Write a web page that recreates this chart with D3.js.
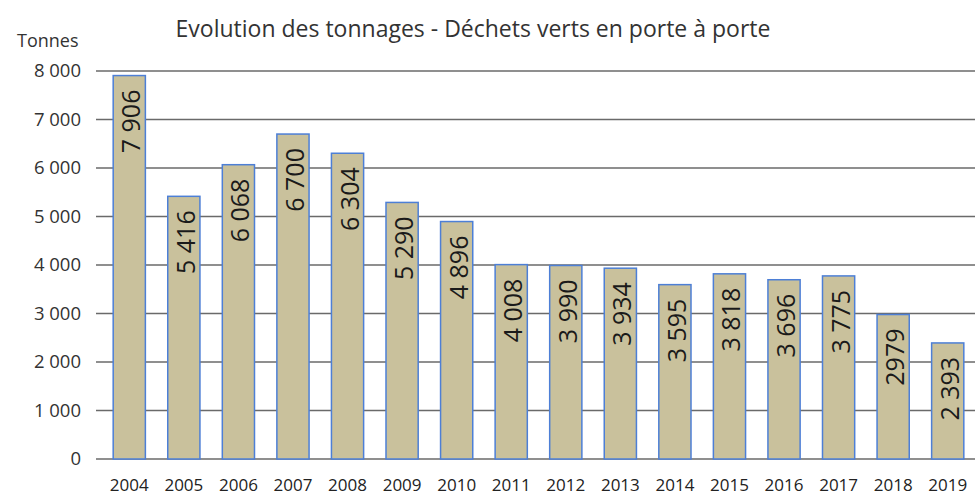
<!DOCTYPE html>
<html>
<head>
<meta charset="utf-8">
<script src="https://cdn.jsdelivr.net/npm/d3@7"></script>
<style>
  body { margin: 0; background: #fff; }
  svg { display: block; }
  text { font-family: "Open Sans", "Noto Sans", sans-serif; }
</style>
</head>
<body>
<svg id="chart" width="977" height="497"></svg>
<script>
// Annual green-waste tonnage collected door to door
const years = ["2004","2005","2006","2007","2008","2009","2010","2011","2012","2013","2014","2015","2016","2017","2018","2019"];
const tonnes = [7906, 5416, 6068, 6700, 6304, 5290, 4896, 4008, 3990, 3934, 3595, 3818, 3696, 3775, 2979, 2393];
const valueLabels = ["7 906","5 416","6 068","6 700","6 304","5 290","4 896","4 008","3 990","3 934","3 595","3 818","3 696","3 775","2979","2 393"];
const yTicks = [0, 1000, 2000, 3000, 4000, 5000, 6000, 7000, 8000];
const yTickLabels = ["0","1 000","2 000","3 000","4 000","5 000","6 000","7 000","8 000"];

const svg = d3.select("#chart");
const margin = { left: 102, right: 2, top: 71, bottom: 38 };
const W = 977, H = 497;

const x = d3.scaleBand().domain(years).range([margin.left, W - margin.right]).paddingInner(0.41).paddingOuter(0.205);
const y = d3.scaleLinear().domain([0, 8000]).range([H - margin.bottom, margin.top]);

// Title and unit
svg.append("text").attr("x", 473).attr("y", 37).attr("text-anchor", "middle")
  .attr("font-size", 23).attr("fill", "#333").text("Evolution des tonnages - Déchets verts en porte à porte");
svg.append("text").attr("x", 17).attr("y", 47)
  .attr("font-size", 18).attr("fill", "#333").text("Tonnes");

// Horizontal gridlines
svg.append("g").selectAll("line").data(yTicks).join("line")
  .attr("x1", margin.left - 6).attr("x2", W - 2)
  .attr("y1", d => y(d)).attr("y2", d => y(d))
  .attr("stroke", "#6a6a6a").attr("stroke-width", 1.5);

// Y axis labels
const yAxis = d3.axisLeft(y).tickValues(yTicks).tickFormat((d, i) => yTickLabels[i]).tickSize(0).tickPadding(0);
const gy = svg.append("g").attr("transform", `translate(81,0)`).call(yAxis);
gy.select(".domain").remove();
gy.selectAll("text").attr("font-size", 18.5).attr("fill", "#333").attr("font-family", "'Open Sans', sans-serif");

// X axis labels
const xAxis = d3.axisBottom(x).tickSize(0).tickPadding(0);
const gx = svg.append("g").attr("transform", `translate(0,${H - margin.bottom + 20})`).call(xAxis);
gx.select(".domain").remove();
gx.selectAll("text").attr("font-size", 17).attr("fill", "#222").attr("font-family", "'Open Sans', sans-serif");

// Bars
svg.append("g").selectAll("rect").data(tonnes).join("rect")
  .attr("x", (d, i) => x(years[i]))
  .attr("y", d => y(d))
  .attr("width", x.bandwidth())
  .attr("height", d => y(0) - y(d))
  .attr("fill", "#c9c19c")
  .attr("stroke", "#4d7fd6")
  .attr("stroke-width", 1.5);

// Value labels, rotated inside each bar
svg.append("g").selectAll("text").data(tonnes).join("text")
  .attr("transform", (d, i) => `translate(${x(years[i]) + x.bandwidth() / 2 + 11},${y(d) + 14}) rotate(-90)`)
  .attr("text-anchor", "end")
  .attr("font-size", 25)
  .attr("fill", "#1a1a1a")
  .text((d, i) => valueLabels[i]);
</script>
</body>
</html>
